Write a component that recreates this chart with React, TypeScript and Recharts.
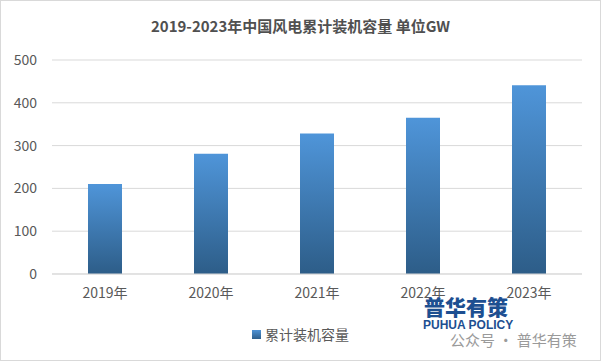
import React from "react";
import { BarChart, Bar, XAxis, YAxis, CartesianGrid, Legend } from "recharts";

const categories = ["2019年", "2020年", "2021年", "2022年", "2023年"];
const capacity = [210, 281, 328, 365, 441];
const yTicks = [0, 100, 200, 300, 400, 500];
const seriesName = "累计装机容量";
const title = "2019-2023年中国风电累计装机容量 单位GW";

const data = categories.map((c, i) => ({ year: c, value: capacity[i] }));

const FONT = '"Noto Sans CJK SC", "Noto Sans", sans-serif';

const LegendContent = () => (
  <div style={{ display: "flex", justifyContent: "center", alignItems: "center", fontFamily: FONT, fontSize: 14, color: "#595959", height: 20 }}>
    <span style={{ display: "inline-block", width: 9, height: 9, background: "linear-gradient(#4f93d6, #2e5f8c)", marginRight: 4 }} />
    <span>{seriesName}</span>
  </div>
);

export default function App() {
  return (
    <div style={{ position: "absolute", left: 0, top: 0, width: 601, height: 361, background: "#fff", fontFamily: FONT }}>
      <div style={{ position: "absolute", left: 0, top: 0, width: 599, height: 359, border: "1px solid #d9d9d9" }} />
      <div style={{ position: "absolute", top: 15, left: 0, width: 601, textAlign: "center", fontSize: 15, fontWeight: "bold", color: "#505050" }}>
        {title}
      </div>
      <div style={{ position: "absolute", left: 0, top: 0 }}>
        <BarChart width={601} height={361} data={data} margin={{ top: 60, right: 19, bottom: 37, left: 0 }}>
          <defs>
            <linearGradient id="barGrad" x1="0" y1="0" x2="0" y2="1">
              <stop offset="0%" stopColor="#4f95d9" />
              <stop offset="100%" stopColor="#2d5d88" />
            </linearGradient>
          </defs>
          <CartesianGrid vertical={false} stroke="#d9d9d9" />
          <XAxis
            dataKey="year"
            height={30}
            axisLine={{ stroke: "#d9d9d9" }}
            tickLine={false}
            tickSize={0}
            tickMargin={14}
            tick={{ fill: "#595959", fontSize: 14, fontFamily: FONT }}
            interval={0}
          />
          <YAxis
            width={52}
            domain={[0, 500]}
            ticks={yTicks}
            axisLine={false}
            tickLine={false}
            tickSize={0}
            tickMargin={15}
            tick={{ fill: "#595959", fontSize: 14, fontFamily: FONT }}
          />
          <Legend
            content={<LegendContent />}
            wrapperStyle={{ position: "absolute", top: 324, left: 0, width: 601, height: 20 }}
          />
          <Bar dataKey="value" name={seriesName} fill="url(#barGrad)" barSize={34} isAnimationActive={false} />
        </BarChart>
      </div>
      <div style={{ position: "absolute", left: 424, top: 296, fontSize: 21, fontWeight: 900, color: "#1d4f91", lineHeight: "21px" }}>
        普华有策
      </div>
      <div style={{ position: "absolute", left: 423, top: 319, fontSize: 12, fontWeight: "bold", color: "#1d4f91", lineHeight: "12px", fontFamily: '"Liberation Sans", sans-serif' }}>
        PUHUA POLICY
      </div>
      <div style={{ position: "absolute", left: 450, top: 332, fontSize: 15, color: "#9a9a9a", lineHeight: "16px" }}>
        公众号 · 普华有策
      </div>
    </div>
  );
}
